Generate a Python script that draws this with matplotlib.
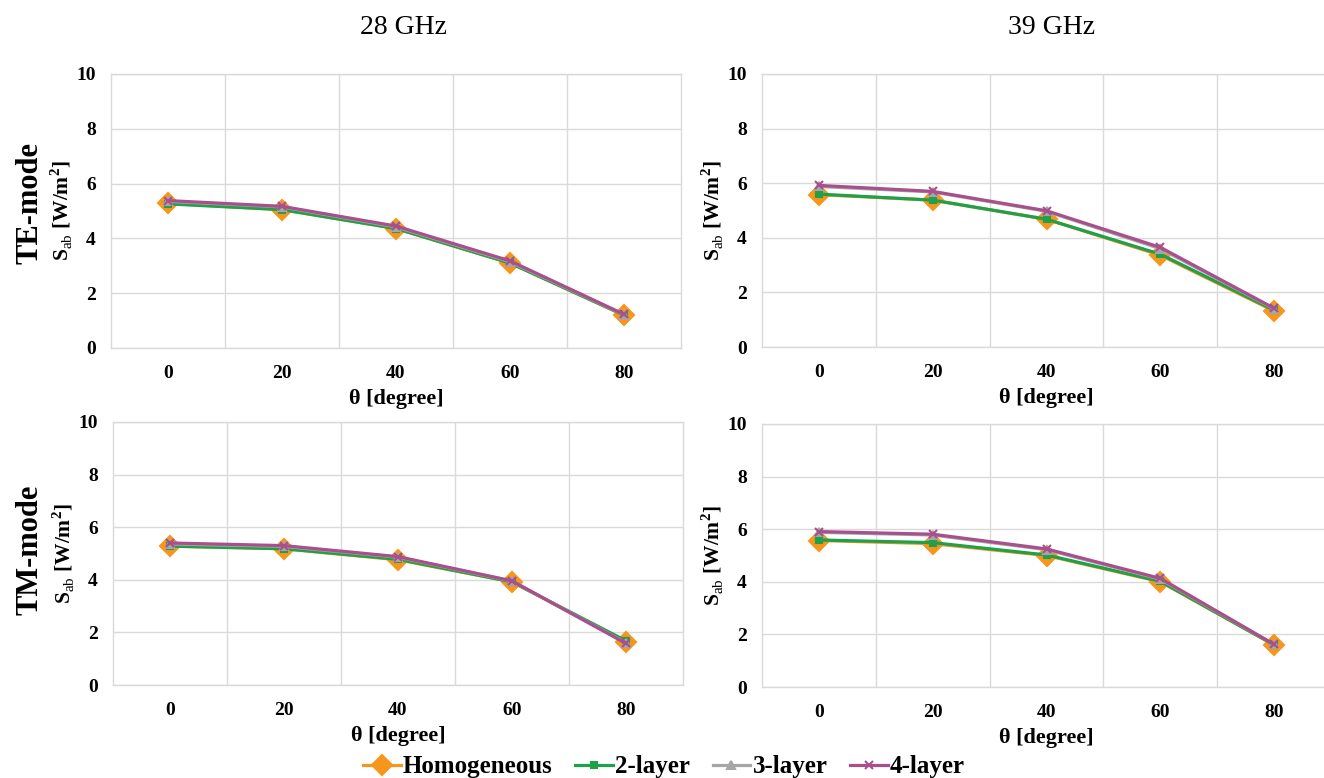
import numpy as np
import matplotlib
matplotlib.use("Agg")
import matplotlib.pyplot as plt
from matplotlib.lines import Line2D

plt.rcParams['font.family'] = ['Liberation Serif', 'DejaVu Serif']
plt.rcParams['mathtext.fontset'] = 'custom'
plt.rcParams['mathtext.rm'] = 'Liberation Serif'
plt.rcParams['mathtext.bf'] = 'Liberation Serif:bold'

# angles (categories)
theta = [0, 20, 40, 60, 80]

# 28 GHz, TE-mode
te28_homo = [5.28, 5.05, 4.36, 3.10, 1.20]
te28_2l = [5.26, 5.05, 4.36, 3.10, 1.20]
te28_3l = [5.35, 5.15, 4.42, 3.15, 1.22]
te28_4l = [5.38, 5.17, 4.45, 3.18, 1.23]

# 39 GHz, TE-mode
te39_homo = [5.58, 5.38, 4.68, 3.36, 1.32]
te39_2l = [5.60, 5.38, 4.68, 3.40, 1.35]
te39_3l = [5.88, 5.68, 4.97, 3.60, 1.40]
te39_4l = [5.92, 5.70, 4.99, 3.65, 1.42]

# 28 GHz, TM-mode
tm28_homo = [5.28, 5.18, 4.76, 3.92, 1.65]
tm28_2l = [5.28, 5.18, 4.78, 3.92, 1.68]
tm28_3l = [5.36, 5.27, 4.86, 3.95, 1.60]
tm28_4l = [5.40, 5.30, 4.88, 3.96, 1.58]

# 39 GHz, TM-mode
tm39_homo = [5.57, 5.45, 5.00, 4.00, 1.60]
tm39_2l = [5.59, 5.49, 5.02, 4.02, 1.60]
tm39_3l = [5.88, 5.78, 5.22, 4.10, 1.62]
tm39_4l = [5.91, 5.81, 5.25, 4.13, 1.62]

labels = ["Homogeneous", "2-layer", "3-layer", "4-layer"]
colors = ["#F7961C", "#1FA04A", "#A6A6A6", "#A8508E"]
markers = ["D", "s", "^", "x"]
msizes = [10, 5, 6, 6]

W, H = 1324, 778
fig = plt.figure(figsize=(W / 100, H / 100), dpi=100)

def px_axes(x0, y0, x1, y1):
    return fig.add_axes([x0 / W, 1 - y1 / H, (x1 - x0) / W, (y1 - y0) / H])

panels = [
    (px_axes(111, 74, 681, 348), [te28_homo, te28_2l, te28_3l, te28_4l]),
    (px_axes(762, 74, 1331, 347), [te39_homo, te39_2l, te39_3l, te39_4l]),
    (px_axes(113, 422, 683, 685), [tm28_homo, tm28_2l, tm28_3l, tm28_4l]),
    (px_axes(762, 424, 1331, 687), [tm39_homo, tm39_2l, tm39_3l, tm39_4l]),
]

grid_c = "#DADADA"
for ax, series in panels:
    for vals, lab, c, m, ms in zip(series, labels, colors, markers, msizes):
        ax.plot(theta, vals, color=c, lw=2.3, marker=m, ms=ms, mew=1.5,
                mec=c, mfc=c, label=lab, zorder=3, clip_on=False)
    ax.set_xlim(-10, 90)
    ax.set_ylim(0, 10)
    ax.set_xticks(theta)
    ax.set_xticks([10, 30, 50, 70], minor=True)
    ax.set_yticks([0, 2, 4, 6, 8, 10])
    ax.grid(True, which='minor', axis='x', color=grid_c, lw=1)
    ax.grid(True, which='major', axis='y', color=grid_c, lw=1)
    ax.tick_params(which='both', length=0)
    ax.tick_params(axis='y', pad=11, labelsize=14)
    ax.tick_params(axis='x', pad=12, labelsize=14)
    for lab in ax.get_xticklabels() + ax.get_yticklabels():
        lab.set_fontweight('bold')
    for sp in ax.spines.values():
        sp.set_color(grid_c)
        sp.set_linewidth(1)
    ax.set_xlabel("θ [degree]", fontsize=16, fontweight='bold', labelpad=5)
    ax.set_ylabel(r"S$_{\mathrm{ab}}$ [W/m$^{\mathbf{2}}$]", fontsize=15.5,
                  fontweight='bold', labelpad=1)

fig.text(403 / W, 1 - 28 / H, "28 GHz", ha='center', va='center', fontsize=20)
fig.text(1052 / W, 1 - 28 / H, "39 GHz", ha='center', va='center', fontsize=20)
fig.text(30 / W, 1 - 203 / H, "TE-mode", ha='center', va='center', fontsize=22,
         fontweight='bold', rotation=90)
fig.text(30 / W, 1 - 550 / H, "TM-mode", ha='center', va='center', fontsize=22,
         fontweight='bold', rotation=90)

handles = [Line2D([0], [0], color=c, lw=2.3, marker=m, ms=ms, mew=1.5, mec=c, mfc=c)
           for c, m, ms in zip(colors, markers, msizes)]
fig.legend(handles, labels, loc='center', bbox_to_anchor=(664 / W, 1 - 767 / H),
           ncol=4, frameon=False, handlelength=1.5, handletextpad=0.1,
           columnspacing=0.9, prop={'family': 'Liberation Serif', 'weight': 'bold', 'size': 18})

fig.savefig("out.png", dpi=100)
